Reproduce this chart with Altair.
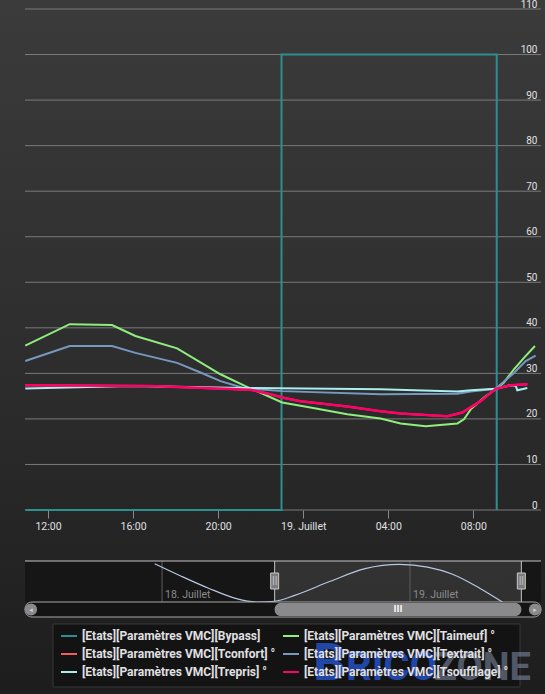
import altair as alt
import pandas as pd

# ---------------- data (hours counted from 18 Jul 00:00) ----------------
BASE = pd.Timestamp(year=2019, month=7, day=18)

SERIES = [
    "[Etats][Paramètres VMC][Bypass]",
    "[Etats][Paramètres VMC][Taimeuf] °",
    "[Etats][Paramètres VMC][Tconfort] °",
    "[Etats][Paramètres VMC][Textrait] °",
    "[Etats][Paramètres VMC][Trepris] °",
    "[Etats][Paramètres VMC][Tsoufflage] °",
]
COLORS = ["#2b908f", "#90ee7e", "#f45b5b", "#7798bf", "#aaeeee", "#ff0066"]
# legend fills column by column: Bypass, Tconfort, Trepris | Taimeuf, Textrait, Tsoufflage
LEGEND_ORDER = [0, 2, 4, 1, 3, 5]

bypass_h = [10.93, 22.98, 33.10]
bypass_v = [0, 100, 0]

taimeuf_h = [10.93, 13.02, 15.01, 16.11, 18.07, 20.11, 21.28, 23.01, 24.34, 26.07, 27.64,
             28.58, 29.76, 31.25, 31.56, 31.88, 32.50, 33.05, 33.44, 33.91, 34.38, 34.90]
taimeuf_v = [36.1, 40.8, 40.6, 38.2, 35.5, 29.8, 27.2, 23.6, 22.5, 21.0, 20.1,
             19.0, 18.4, 19.0, 19.9, 22.1, 24.7, 26.5, 28.0, 30.9, 33.4, 36.0]

tconfort_h = [10.93, 16.80, 21.52, 22.31, 23.01, 23.87, 26.07, 27.64, 28.58, 30.78,
              31.48, 32.34, 33.05, 33.76, 34.54]
tconfort_v = [27.4, 27.2, 26.4, 25.6, 24.7, 23.9, 22.7, 21.7, 21.2, 20.6,
              21.4, 23.9, 26.6, 27.4, 27.6]

textrait_h = [10.93, 13.02, 15.01, 16.11, 18.07, 19.17, 20.11, 21.28, 23.01, 27.64,
              31.25, 31.88, 33.05, 33.91, 34.46, 34.93]
textrait_v = [32.7, 36.0, 36.0, 34.5, 32.3, 30.2, 28.3, 26.7, 26.1, 25.4,
              25.5, 26.0, 26.6, 30.1, 32.7, 33.9]

trepris_h = [10.93, 15.87, 21.28, 27.64, 31.25, 31.88, 33.05, 33.76, 34.00, 34.07, 34.54]
trepris_v = [26.7, 27.2, 26.8, 26.5, 26.0, 26.3, 26.6, 27.4, 27.2, 26.3, 26.8]

tsoufflage_h = [10.93, 16.80, 21.52, 22.31, 23.01, 23.87, 26.07, 27.64, 28.58, 30.78,
                31.48, 32.34, 33.05, 33.76, 34.54]
tsoufflage_v = [27.4, 27.2, 26.4, 25.6, 24.7, 23.9, 22.7, 21.7, 21.2, 20.6,
                21.4, 23.9, 26.6, 27.4, 27.6]

MAIN_START_H, MAIN_END_H = 10.93, 35.19
TICK_H = [12, 16, 20, 24, 28, 32]
Y_TICKS = list(range(0, 111, 10))

# navigator
nav_h = [-0.71, 1.81, 4.50, 7.20, 9.22, 10.90, 12.91, 16.28, 19.65, 23.01, 25.70, 28.06, 30.75, 32.94]
nav_v = [1.00, 0.68, 0.36, 0.09, 0.00, 0.02, 0.18, 0.54, 0.87, 0.98, 0.91, 0.73, 0.36, 0.00]
NAV_START_H, NAV_END_H = -13.26, 36.69
SEL_START_H, SEL_END_H = 10.90, 34.78
nav_day_h = [0, 24]
nav_day_labels = ["18. Juillet", "19. Juillet"]


def iso(h):
    return (BASE + pd.to_timedelta(h, unit="h")).strftime("%Y-%m-%dT%H:%M:%S")


def dt(h):
    t = BASE + pd.to_timedelta(h, unit="h")
    return alt.DateTime(year=t.year, month=t.month, date=t.day, hours=t.hour, minutes=t.minute)


ONE = pd.DataFrame({"k": [0]})
W, H = 516, 501

# ---------------- main chart ----------------
xs = alt.Scale(domain=[dt(MAIN_START_H), dt(MAIN_END_H)])
ys = alt.Scale(domain=[0, 110], nice=False)
cs = alt.Scale(domain=[SERIES[i] for i in LEGEND_ORDER], range=[COLORS[i] for i in LEGEND_ORDER])

x_axis = alt.Axis(
    values=[dt(h) for h in TICK_H],
    labelExpr="hours(datum.value) == 0 ? timeFormat(datum.value, '%d') + '. Juillet' : timeFormat(datum.value, '%H:%M')",
    grid=False, domain=False, tickColor="#8a8a8d", tickSize=8, zindex=1,
    labelColor="#e0e0e3", labelFontSize=10.5, labelPadding=3, labelFont="Roboto",
)
y_axis = alt.Axis(
    orient="right", values=Y_TICKS, grid=False, zindex=1,
    domain=False, ticks=False, tickSize=0, labelAlign="right", labelPadding=-4,
    labelBaseline="alphabetic", labelOffset=-2, labelColor="#e0e0e3",
    labelFontSize=10, labelFont="Roboto",
)
legend = alt.Legend(
    orient="none", legendX=28, legendY=611, columns=2, title=None,
    symbolType="stroke", symbolSize=256, symbolStrokeWidth=2, labelOffset=4,
    labelColor="#e0e0e3", labelFont="Roboto", labelFontSize=12, labelFontWeight="bold",
    labelLimit=400, padding=7, rowPadding=3, columnPadding=3,
)

bg = alt.Chart(ONE).mark_rect(
    color=alt.Gradient(gradient="linear", x1=0, x2=0, y1=0, y2=1,
                       stops=[alt.GradientStop(color="#3b3b3b", offset=0),
                              alt.GradientStop(color="#2e2e2e", offset=0.5),
                              alt.GradientStop(color="#1d1d1d", offset=1)])
).encode(x=alt.value(-25), x2=alt.value(520), y=alt.value(-9), y2=alt.value(685))

grid = alt.Chart(pd.DataFrame({"v": Y_TICKS})).mark_rule(color="#7a7a7d", strokeWidth=1).encode(
    y=alt.Y("v:Q", scale=ys, axis=y_axis, title=None), x=alt.value(0), x2=alt.value(W))

legend_box = alt.Chart(ONE).mark_rect(fill="#121212", opacity=0.9, stroke="#3a3a3a", strokeWidth=1).encode(
    x=alt.value(28), x2=alt.value(495), y=alt.value(615), y2=alt.value(678))

series_data = [
    (SERIES[0], bypass_h, bypass_v, 2, "step-after"),
    (SERIES[1], taimeuf_h, taimeuf_v, 2, "linear"),
    (SERIES[2], tconfort_h, tconfort_v, 2, "linear"),
    (SERIES[3], textrait_h, textrait_v, 2, "linear"),
    (SERIES[4], trepris_h, trepris_v, 2, "linear"),
    (SERIES[5], tsoufflage_h, tsoufflage_v, 2.5, "linear"),
]
lines = []
for name, hrs, vals, w, interp in series_data:
    df = pd.DataFrame({"t": [iso(h) for h in hrs], "v": vals, "series": name})
    lines.append(
        alt.Chart(df).mark_line(strokeWidth=w, interpolate=interp).encode(
            x=alt.X("t:T", scale=xs, axis=x_axis, title=None),
            y=alt.Y("v:Q", scale=ys, axis=y_axis, title=None),
            color=alt.Color("series:N", scale=cs, legend=legend),
        )
    )

wm_b = alt.Chart(ONE).mark_text(text="B", font="Roboto", fontWeight="bold", fontSize=52,
                                 color="#2246a6", align="left", baseline="alphabetic").encode(
    x=alt.value(288), y=alt.value(671))
wm_rico = alt.Chart(ONE).mark_text(text="RICO", font="Roboto", fontWeight="bold", fontSize=40,
                                    color="#2246a6", align="left", baseline="alphabetic").encode(
    x=alt.value(321), y=alt.value(671))
wm_zone = alt.Chart(ONE).mark_text(text="ZONE", font="Roboto", fontWeight="bold", fontSize=38,
                                    color="#9aaacb", opacity=0.45, align="left", baseline="alphabetic").encode(
    x=alt.value(409), y=alt.value(671))

main = alt.layer(bg, grid, legend_box, *lines, wm_b, wm_rico, wm_zone)

# ---------------- navigator ----------------
nxs = alt.Scale(domain=[dt(NAV_START_H), dt(NAV_END_H)])
nys = alt.Scale(domain=[0, 1.07], range=[593, 552])
NX = lambda f: alt.X(f, scale=nxs, axis=None, title=None)

mask_df = pd.DataFrame({"t": [iso(NAV_START_H), iso(SEL_END_H)], "t2": [iso(SEL_START_H), iso(NAV_END_H)]})
sel_df = pd.DataFrame({"t": [iso(SEL_START_H)], "t2": [iso(SEL_END_H)]})
handle_df = pd.DataFrame({"t": [iso(SEL_START_H), iso(SEL_END_H)]})
day_df = pd.DataFrame({"t": [iso(h) for h in nav_day_h], "label": nav_day_labels})
nav_df = pd.DataFrame({"t": [iso(h) for h in nav_h], "v": nav_v})

nav_mask = alt.Chart(mask_df).mark_rect(fill="#000000", opacity=0.35).encode(
    x=NX("t:T"), x2="t2:T", y=alt.value(552), y2=alt.value(593))
nav_sel = alt.Chart(sel_df).mark_rect(fill="#ffffff", opacity=0.07).encode(
    x=NX("t:T"), x2="t2:T", y=alt.value(552), y2=alt.value(593))
nav_grid = alt.Chart(day_df).mark_rule(color="#5e5e60", strokeWidth=1).encode(
    x=NX("t:T"), y=alt.value(552), y2=alt.value(593))
nav_text = alt.Chart(day_df).mark_text(align="left", dx=3, baseline="alphabetic", color="#8c8c8c",
                                        fontSize=10.5, font="Roboto").encode(
    x=NX("t:T"), y=alt.value(589), text="label:N")
nav_line = alt.Chart(nav_df).mark_line(interpolate="monotone", color="#b8c8e2", strokeWidth=1.2).encode(
    x=NX("t:T"), y=alt.Y("v:Q", scale=nys, axis=None, title=None))
nav_outline = alt.Chart(ONE).mark_rule(color="#c4c4c4", strokeWidth=1).encode(
    x=alt.value(0), x2=alt.value(W), y=alt.value(552))
nav_hline = alt.Chart(handle_df).mark_rule(color="#c4c4c4", strokeWidth=1).encode(
    x=NX("t:T"), y=alt.value(552), y2=alt.value(593))
nav_handle = alt.Chart(handle_df).mark_point(
    shape="M-0.5,-1L0.5,-1L0.5,1L-0.5,1Z", size=256, filled=True, fill="#7c7c7e",
    stroke="#c8c8c8", strokeWidth=1, opacity=1).encode(x=NX("t:T"), y=alt.value(572))
nav_handle_txt = alt.Chart(handle_df).mark_text(text="||", color="#d8d8d8", fontSize=8, font="DejaVu Sans").encode(
    x=NX("t:T"), y=alt.value(572))
track = alt.Chart(ONE).mark_rect(fill="#141414", stroke="#a8a8a8", strokeWidth=1, cornerRadius=7).encode(
    x=alt.value(0), x2=alt.value(W), y=alt.value(593), y2=alt.value(608))
thumb = alt.Chart(sel_df).mark_rect(fill="#8a8a8c", cornerRadius=6).encode(
    x=NX("t:T"), x2="t2:T", y=alt.value(594), y2=alt.value(607))
rifle = alt.Chart(sel_df).transform_calculate(mid="(time(datum.t) + time(datum.t2)) / 2").mark_text(
    text="III", color="#f4f4f4", fontSize=8, fontWeight="bold", font="DejaVu Sans").encode(
    x=NX("mid:T"), y=alt.value(600.5))
btn_l = alt.Chart(ONE).mark_point(shape="circle", filled=True, size=150, color="#8a8a8c", opacity=1).encode(
    x=alt.value(6), y=alt.value(600.5))
btn_r = alt.Chart(ONE).mark_point(shape="circle", filled=True, size=150, color="#8a8a8c", opacity=1).encode(
    x=alt.value(510), y=alt.value(600.5))
arr_l = alt.Chart(ONE).mark_text(text="◂", color="#d0d0d0", fontSize=7, font="DejaVu Sans").encode(
    x=alt.value(6), y=alt.value(600.5))
arr_r = alt.Chart(ONE).mark_text(text="▸", color="#d0d0d0", fontSize=7, font="DejaVu Sans").encode(
    x=alt.value(510), y=alt.value(600.5))

nav = alt.layer(nav_mask, nav_sel, nav_grid, nav_text, nav_line, nav_outline, nav_hline,
                nav_handle, nav_handle_txt, track, thumb, rifle, btn_l, btn_r, arr_l, arr_r)

chart = (
    alt.layer(main, nav)
    .resolve_scale(x="independent", y="independent")
    .properties(width=W, height=H,
                padding={"left": 25, "top": 9, "right": 4, "bottom": 184},
                autosize=alt.AutoSizeParams(type="none"))
    .configure(background="#2b2b2b", font="Roboto")
    .configure_view(stroke=None)
)

chart.save("out.html", embed_options={"renderer": "svg", "actions": False})
